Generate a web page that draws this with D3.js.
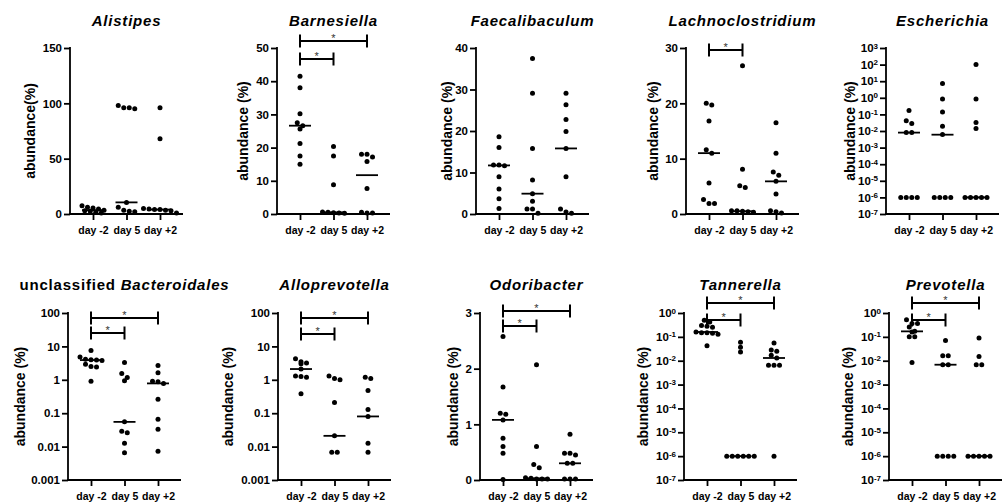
<!DOCTYPE html>
<html>
<head>
<meta charset="utf-8">
<title>Abundance by day</title>
<script src="https://cdn.jsdelivr.net/npm/d3@7"></script>
<style>
  body { margin: 0; background: #fff; font-family: "Liberation Sans", Arial, sans-serif; }
  .axis path, .axis line { stroke: #000; stroke-width: 1.8px; }
  .axis text { font-family: "Liberation Sans", Arial, sans-serif; font-weight: bold; fill: #000; }
  .title { font-weight: bold; font-size: 15px; letter-spacing: 0.8px; }
  .ylab { font-weight: bold; font-size: 14px; }
</style>
</head>
<body>
<div id="chart"></div>
<script>
//////////////////////// data ////////////////////////
var days = ["day -2", "day 5", "day +2"];

var alistipes      = [[7.5, 6, 5.5, 4.5, 3.5, 3, 2.5, 1.5, 1], [98, 96, 96, 95, 10.5, 6, 3.5, 2.5, 2], [96, 68, 5, 4.5, 4, 4, 3.5, 3, 1]];
var barnesiella    = [[41.5, 38, 30.2, 27.5, 26.6, 25.6, 21.2, 17.5, 15], [20.3, 17.5, 8.8, 0.6, 0.5, 0.4, 0.3, 0.2], [18, 18, 17.2, 15.8, 7.7, 0.5, 0.3, 0.3]];
var faecalibaculum = [[18.6, 16, 11.8, 11.8, 11.6, 9, 6, 3.7, 1.3], [37.5, 29.1, 15.8, 8.2, 4.9, 3.1, 1.2, 1.2, 0.2], [29.1, 26.3, 22.8, 19.9, 15.8, 9, 1.2, 0.5, 0.2]];
var lachno         = [[20, 19.7, 16.8, 11.6, 11, 5.6, 2.6, 1.9, 1.9], [26.8, 8.1, 5.1, 4.8, 0.6, 0.6, 0.5, 0.4, 0.3], [16.5, 11, 7.6, 7, 5.9, 3.6, 0.6, 0.4, 0.2]];
var escherichia    = [[0.17, 0.042, 0.028, 0.008, 0.008, 1e-6, 1e-6, 1e-6, 1e-6], [7.2, 0.85, 0.14, 0.0195, 0.0062, 1e-6, 1e-6, 1e-6, 1e-6], [100, 0.85, 0.032, 0.014, 1e-6, 1e-6, 1e-6, 1e-6, 1e-6]];
var bacteroidales  = [[7.5, 4.8, 4.1, 4.0, 3.9, 3.8, 2.9, 2.5, 2.4, 0.9], [3.3, 1.55, 1.17, 0.93, 0.055, 0.029, 0.026, 0.0126, 0.0065], [2.7, 1.63, 0.9, 0.88, 0.78, 0.26, 0.066, 0.033, 0.0072]];
var alloprevotella = [[4.3, 3.5, 3.2, 3.0, 2.1, 1.3, 1.25, 1.2, 0.38], [1.3, 1.1, 1.0, 0.21, 0.021, 0.0068, 0.0068], [1.2, 1.1, 0.48, 0.13, 0.08, 0.0126, 0.0068]];
var odoribacter    = [[2.58, 1.67, 1.2, 1.18, 1.08, 0.75, 0.6, 0.48, 0.01], [2.07, 0.6, 0.28, 0.22, 0.04, 0.03, 0.02, 0.02, 0.02], [0.82, 0.48, 0.48, 0.45, 0.3, 0.3, 0.02, 0.02, 0.02]];
var tannerella     = [[0.5, 0.42, 0.3, 0.28, 0.25, 0.16, 0.15, 0.15, 0.14, 0.13, 0.042], [0.06, 0.037, 0.023, 1e-6, 1e-6, 1e-6, 1e-6, 1e-6, 1e-6], [0.055, 0.028, 0.025, 0.017, 0.013, 0.0065, 0.0065, 0.0065, 1e-6]];
var prevotella     = [[0.52, 0.36, 0.36, 0.26, 0.17, 0.16, 0.1, 0.1, 0.0085], [0.071, 0.016, 0.016, 0.0068, 0.0068, 1e-6, 1e-6, 1e-6, 1e-6], [0.089, 0.015, 0.0068, 0.0068, 1e-6, 1e-6, 1e-6, 1e-6, 1e-6]];

// medians (horizontal bars)
var medAlistipes = [3.5, 10.5, 4], medBarnesiella = [26.6, 0.5, 11.7], medFaecali = [11.7, 4.9, 15.8],
    medLachno = [11, 0.5, 5.9], medEscherichia = [0.008, 0.006, 1e-6], medBacteroidales = [3.9, 0.055, 0.78],
    medAllo = [2.1, 0.021, 0.08], medOdori = [1.08, 0.03, 0.3], medTanner = [0.16, 1e-6, 0.013], medPrevo = [0.17, 0.0068, 1e-6];

// significance pairs (category indexes)
var sigOne = [[0, 1]];
var sigTwo = [[0, 1], [0, 2]];

//////////////////////// layout ////////////////////////
var rows = [
  {top: 48, bottom: 214, titleY: 26, xlabY: 233},
  {top: 313, bottom: 480, titleY: 290, xlabY: 498}
];

var panels = [
  {title: [["Alistipes", 1]], vals: alistipes, med: medAlistipes, type: "lin", domain: [0, 150], nt: 3, ylab: "abundance(%)", left: 70, row: 0, labX: -40, sig: [], sigY: []},
  {title: [["Barnesiella", 1]], vals: barnesiella, med: medBarnesiella, type: "lin", domain: [0, 50], nt: 5, ylab: "abundance (%)", left: 277, row: 0, labX: -34, sig: sigTwo, sigY: [11, -7]},
  {title: [["Faecalibaculum", 1]], vals: faecalibaculum, med: medFaecali, type: "lin", domain: [0, 40], nt: 4, ylab: "abundance (%)", left: 476, row: 0, labX: -29, sig: [], sigY: []},
  {title: [["Lachnoclostridium", 1]], vals: lachno, med: medLachno, type: "lin", domain: [0, 30], nt: 3, ylab: "abundance (%)", left: 686, row: 0, labX: -33, sig: sigOne, sigY: [2]},
  {title: [["Escherichia", 1]], vals: escherichia, med: medEscherichia, type: "pow", domain: [1e-7, 1e3], ylab: "abundance (%)", left: 886, row: 0, labX: -36, sig: [], sigY: []},
  {title: [["unclassified ", 0], ["Bacteroidales", 1]], vals: bacteroidales, med: medBacteroidales, type: "dec", domain: [1e-3, 1e2], ylab: "abundance (%)", left: 68, row: 1, labX: -48, sig: sigTwo, sigY: [20, 5]},
  {title: [["Alloprevotella", 1]], vals: alloprevotella, med: medAllo, type: "dec", domain: [1e-3, 1e2], ylab: "abundance (%)", left: 278, row: 1, labX: -50, sig: sigTwo, sigY: [21, 5]},
  {title: [["Odoribacter", 1]], vals: odoribacter, med: medOdori, type: "lin", domain: [0, 3], nt: 3, ylab: "abundance (%)", left: 480, row: 1, labX: -27, sig: sigTwo, sigY: [13, -2]},
  {title: [["Tannerella", 1]], vals: tannerella, med: medTanner, type: "pow", domain: [1e-7, 1], ylab: "abundance (%)", left: 684, row: 1, labX: -41, sig: sigTwo, sigY: [7, -10]},
  {title: [["Prevotella", 1]], vals: prevotella, med: medPrevo, type: "pow", domain: [1e-7, 1], ylab: "abundance (%)", left: 889, row: 1, labX: -41, sig: sigTwo, sigY: [7, -10]}
];

var R = 2.5, SPREAD = 5.5, BIN = 4.6, AXW = 113;

var svg = d3.select("#chart").append("svg")
  .attr("width", 1005)
  .attr("height", 503);

panels.forEach(function(p) {
  var rw = rows[p.row];
  var g = svg.append("g");

  var x = d3.scalePoint().domain(days).range([p.left + 23, p.left + 90]);
  var y;
  if (p.type == "lin") y = d3.scaleLinear().domain(p.domain).range([rw.bottom, rw.top]);
  else y = d3.scaleLog().domain(p.domain).range([rw.bottom, rw.top]);

  // y axis
  var yAxis = d3.axisLeft(y).tickSizeOuter(0).tickSize(6).tickPadding(2);
  if (p.type == "lin") {
    yAxis.ticks(p.nt).tickFormat(d3.format("d"));
  } else {
    var lo = Math.round(Math.log10(p.domain[0])), hi = Math.round(Math.log10(p.domain[1]));
    yAxis.tickValues(d3.range(lo, hi + 1).map(function(e) { return Math.pow(10, e); }));
    yAxis.tickFormat(p.type == "dec" ? d3.format("~g") : function() { return ""; });
  }
  var ya = g.append("g").attr("class", "axis")
    .attr("transform", "translate(" + p.left + ",0)")
    .call(yAxis);
  ya.select(".domain").attr("d", "M0," + (rw.top - 1) + "V" + rw.bottom);
  ya.selectAll("text").style("font-size", "11.5px");

  if (p.type == "pow") {
    ya.selectAll(".tick text").each(function(d) {
      var t = d3.select(this);
      t.text(null);
      t.append("tspan").text("10");
      t.append("tspan").attr("dy", "-0.45em").style("font-size", "8px")
        .text(String(Math.round(Math.log10(d))));
    });
  }

  // x axis
  var xAxis = d3.axisBottom(x).tickSize(6).tickPadding(7).tickSizeOuter(0);
  var xa = g.append("g").attr("class", "axis")
    .attr("transform", "translate(0," + rw.bottom + ")")
    .call(xAxis);
  xa.select(".domain").attr("d", "M" + (p.left - 1) + ",0H" + (p.left + AXW));
  xa.selectAll("text").style("font-size", "10.5px");

  // title
  var tt = g.append("text").attr("class", "title")
    .attr("x", p.left + 56.5).attr("y", rw.titleY)
    .attr("text-anchor", "middle");
  p.title.forEach(function(part) {
    tt.append("tspan").style("font-style", part[1] ? "italic" : "normal").text(part[0]);
  });

  // y label
  g.append("text").attr("class", "ylab")
    .attr("transform", "translate(" + (p.left + p.labX) + "," + ((rw.top + rw.bottom) / 2) + ") rotate(-90)")
    .attr("text-anchor", "middle")
    .attr("dy", "0.35em")
    .text(p.ylab);

  // dots, spread sideways in rows like a scatter dot plot
  p.vals.forEach(function(arr, ci) {
    var pts = arr.map(function(v) { return {v: v, py: y(v)}; })
      .sort(function(a, b) { return a.py - b.py; });
    var bins = [], cur = null;
    pts.forEach(function(pt) {
      if (!cur || pt.py - cur.start > BIN) { cur = {start: pt.py, items: []}; bins.push(cur); }
      cur.items.push(pt);
    });
    bins.forEach(function(b) {
      var n = b.items.length;
      b.items.forEach(function(pt, i) { pt.dx = (i - (n - 1) / 2) * SPREAD; });
    });
    g.selectAll(null).data(pts).enter().append("circle")
      .attr("cx", function(d) { return x(days[ci]) + d.dx; })
      .attr("cy", function(d) { return d.py; })
      .attr("r", R)
      .style("fill", "#000");
  });

  // median bars
  g.selectAll(null).data(p.med).enter().append("line")
    .attr("x1", function(d, i) { return x(days[i]) - 11; })
    .attr("x2", function(d, i) { return x(days[i]) + 11; })
    .attr("y1", function(d) { return y(d); })
    .attr("y2", function(d) { return y(d); })
    .style("stroke", "#000")
    .style("stroke-width", 1.8);

  // significance brackets
  p.sig.forEach(function(s, k) {
    var by = rw.top + p.sigY[k];
    var x1 = x(days[s[0]]), x2 = x(days[s[1]]);
    g.append("path")
      .attr("d", "M" + x1 + "," + (by - 6.5) + "V" + (by + 6.5) + "M" + x1 + "," + by + "H" + x2 +
                 "M" + x2 + "," + (by - 6.5) + "V" + (by + 6.5))
      .style("fill", "none").style("stroke", "#000").style("stroke-width", 2);
    g.append("text")
      .attr("x", (x1 + x2) / 2).attr("y", by + 1)
      .attr("text-anchor", "middle")
      .style("font-size", "11px").style("fill", "#333")
      .text("*");
  });
});
</script>
</body>
</html>
